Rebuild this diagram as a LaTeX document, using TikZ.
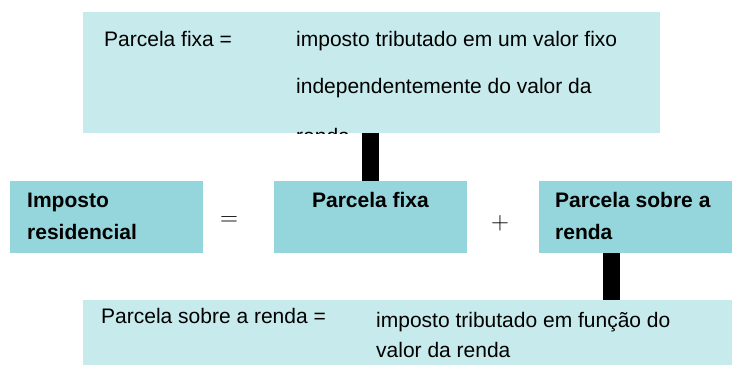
\documentclass[tikz,border=0pt]{standalone}
\usepackage[no-math]{fontspec}
\setmainfont{Liberation Sans}
\definecolor{azzurrochiaro}{RGB}{199,234,236}
\definecolor{azzurro}{RGB}{148,214,219}

\begin{document}
\begin{tikzpicture}[x=1pt, y=-1pt,
    scatola/.style={anchor=north west, inner sep=0pt, minimum width=193pt, minimum height=72pt, fill=azzurro},
    riga/.style={anchor=base west, inner sep=0pt, font=\fontsize{21}{25}\selectfont},
    grassetto/.style={riga, font=\fontsize{21}{25}\selectfont\bfseries},
    segno/.style={inner sep=0pt, font=\fontsize{23}{26}\selectfont},
    asta/.style={line width=16.5pt}]
    \useasboundingbox (0,0) rectangle (732,365);
    \node[scatola, fill=azzurrochiaro, minimum width=577pt, minimum height=121pt] (impfixo) at (83,12) {};
    \node[scatola] (imposto) at (10,181) {};
    \node[scatola] (fixa) at (274,181) {};
    \node[scatola] (renda) at (539,181) {};
    \node[scatola, fill=azzurrochiaro, minimum width=649pt, minimum height=65pt] (imprenda) at (83,300) {};
    \node[riga] (fdef) at (104,46) {Parcela fixa =};
    \begin{scope}
        \clip (impfixo.north west) rectangle (impfixo.south east);
        \node[riga] (fdef1) at (296,46) {imposto tributado em um valor fixo};
        \node[riga] (fdef2) at (296,93) {independentemente do valor da};
        \node[riga] (fdef3) at (296,143) {renda}; %TAGLIATO
    \end{scope}
    \node[grassetto] (imp1) at (27,207) {Imposto};
    \node[grassetto] (imp2) at (27,239) {residencial};
    \node[grassetto, anchor=base] (fixa1) at (370.5,207) {Parcela fixa};
    \node[grassetto] (renda1) at (555,207) {Parcela sobre a};
    \node[grassetto] (renda2) at (555,239) {renda};
    \node[segno] (uguale) at (229,221) {$=$};
    \node[segno] (piu) at (500,223) {$+$};
    \node[riga] (rdef) at (101,323) {Parcela sobre a renda =};
    \node[riga] (rdef1) at (376,327) {imposto tributado em função do};
    \node[riga] (rdef2) at (376,357) {valor da renda};
    \draw[asta] (fixa.north |- impfixo.south) -- (fixa.north);
    \draw[asta] ([xshift=-24pt]renda.south) -- ([xshift=-24pt]renda.south |- imprenda.north);
\end{tikzpicture}
\end{document}
